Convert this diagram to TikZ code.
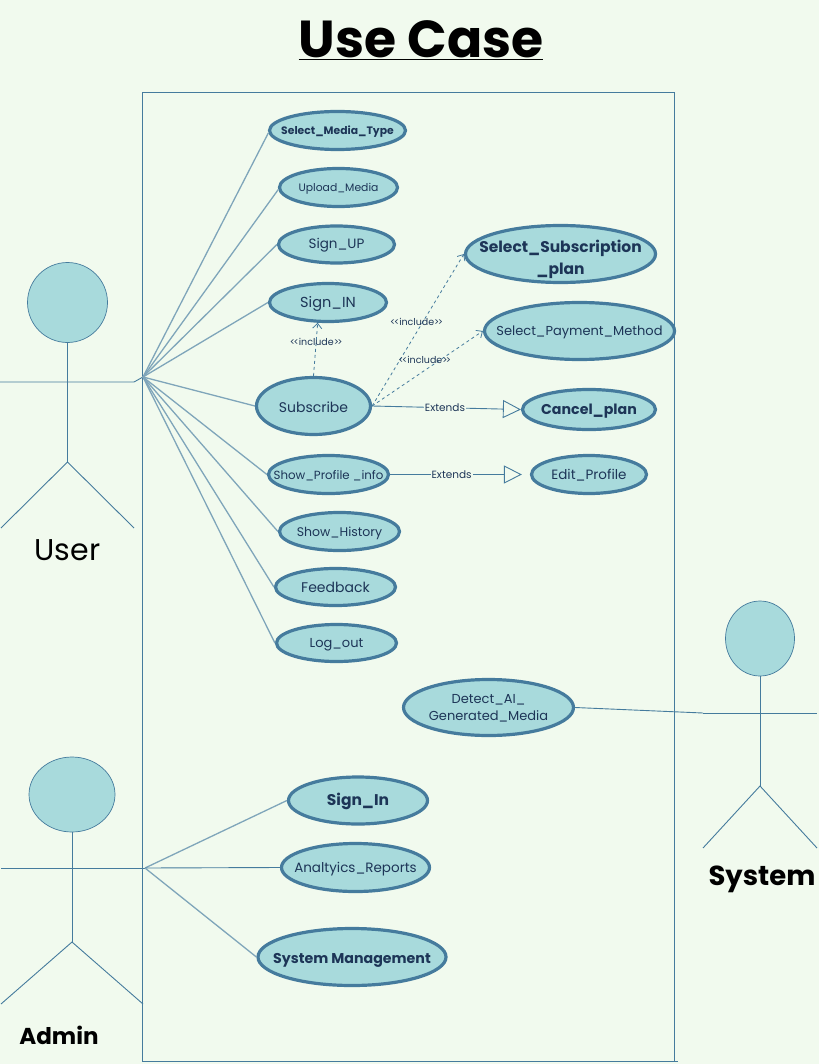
\documentclass[tikz,border=0pt]{standalone}
\usepackage{fontspec}
\setmainfont{Poppins}
\usetikzlibrary{arrows.meta,positioning,shapes.geometric}
\definecolor{pagebg}{HTML}{F1FAEE}
\definecolor{softteal}{HTML}{A8DADC}
\definecolor{steel}{HTML}{457B9D}
\definecolor{navy}{HTML}{1D3557}
\definecolor{assocline}{HTML}{7FA5BA}
\newcommand{\inclabel}{<\kern-1.5pt<include>\kern-1.5pt>}
\tikzset{
  usecase/.style={ellipse,draw=steel,line width=3.2pt,fill=softteal,text=navy,inner xsep=-40pt,inner ysep=-18pt,text height=12pt,text depth=3pt,align=center,on grid},
  actorhead/.style={ellipse,draw=steel,line width=.7pt,fill=softteal,inner sep=0pt},
  limb/.style={draw=steel,line width=.9pt},
  assoc/.style={draw=assocline,line width=1.3pt},
  inclusion/.style={draw=steel,line width=.8pt,dashed,-{Straight Barb[length=5pt,width=9pt]}},
  extension/.style={draw=steel,line width=.9pt,-{Triangle[open,length=18pt,width=18pt]}},
  linklabel/.style={text=navy,font=\fontsize{10.5}{12}\selectfont},
  inclabelstyle/.style={text=navy,font=\fontsize{9.5}{11}\selectfont},
  actorname/.style={text=black,font=\fontsize{30}{34}\selectfont}
}
\begin{document}
\begin{tikzpicture}[x=1pt,y=-1pt]
        \fill[pagebg] (0,0) rectangle (819,1064);
        \useasboundingbox (0,0) rectangle (819,1064);
        \node[font=\bfseries\fontsize{52}{58}\selectfont] (title) at (421,40) {\underline{Use Case}};
        \node[draw=steel,line width=.8pt,outer sep=0pt,anchor=north west,minimum width=532pt,minimum height=968.5pt,inner sep=0pt] (sysbox) at (142.3,92.5) {};
        \draw[limb] (sysbox.south east) -- ++(4pt,0pt);
        % use cases of the user
        \node[usecase,minimum width=136pt,minimum height=38pt,font=\bfseries\fontsize{10.8}{12}\selectfont] (selmedia) at (337.5,130.5) {Select\_Media\_Type};
        \node[usecase,minimum width=118pt,minimum height=38pt,font=\fontsize{10.8}{12}\selectfont] (upload) [below right = 57pt and 1pt of selmedia] {Upload\_Media};
        \node[usecase,minimum width=116pt,minimum height=37pt,font=\fontsize{13.5}{16}\selectfont] (signup) [below left = 57pt and 2pt of upload] {Sign\_UP};
        \node[usecase,minimum width=117pt,minimum height=38pt,font=\fontsize{14.5}{16}\selectfont] (signin) [below left = 58pt and 8.5pt of signup] {Sign\_IN};
        \node[usecase,text height=15pt,minimum width=114pt,minimum height=57pt,font=\fontsize{14}{16}\selectfont] (subscribe) [below left = 103.5pt and 14.5pt of signin] {Subscribe};
        \node[usecase,minimum width=120pt,minimum height=38pt,font=\fontsize{11.8}{14}\selectfont] (showprofile) [below right = 68.5pt and 15pt of subscribe] {Show\_Profile \_info};
        \node[usecase,minimum width=120pt,minimum height=38pt,font=\fontsize{12.5}{15}\selectfont] (showhistory) [below right = 57pt and 11pt of showprofile] {Show\_History};
        \node[usecase,text height=14pt,minimum width=120pt,minimum height=37pt,font=\fontsize{14}{16}\selectfont] (feedback) [below left = 55.5pt and 4pt of showhistory] {Feedback};
        \node[usecase,minimum width=120pt,minimum height=37pt,font=\fontsize{13}{15}\selectfont] (logout) [below right = 56pt and 1pt of feedback] {Log\_out};
        \node[usecase,text height=44pt,minimum width=190pt,minimum height=57pt,font=\bfseries\fontsize{15.5}{22}\selectfont] (selsub) at (560.5,254) {Select\_Subscription\\\_plan};
        \node[usecase,minimum width=190pt,minimum height=57pt,font=\fontsize{13}{16}\selectfont] (selpay) [below right = 77pt and 19pt of selsub] {Select\_Payment\_Method};
        \node[usecase,minimum width=133pt,minimum height=40pt,font=\bfseries\fontsize{14.2}{18}\selectfont] (cancel) [below right = 78.5pt and 9.5pt of selpay] {Cancel\_plan};
        \node[usecase,minimum width=115pt,minimum height=38pt,font=\fontsize{13.5}{16}\selectfont] (editprofile) [below = 65pt of cancel] {Edit\_Profile};
        \node[usecase,text height=28pt,minimum width=170pt,minimum height=56pt,font=\fontsize{13}{17}\selectfont] (detect) at (488.5,707.5) {Detect\_AI\_\\Generated\_Media};
        % use cases of the admin
        \node[usecase,minimum width=139pt,minimum height=47pt,font=\bfseries\fontsize{15.5}{18}\selectfont] (adminsign) at (358,800.5) {Sign\_In};
        \node[usecase,minimum width=148pt,minimum height=48pt,font=\fontsize{13.5}{15}\selectfont] (reports) [below left = 67pt and 2.5pt of adminsign] {Analtyics\_Reports};
        \node[usecase,text height=15pt,minimum width=188pt,minimum height=57pt,font=\bfseries\fontsize{14.2}{17}\selectfont] (sysmanage) [below left = 89.5pt and 3.5pt of reports] {System Management};
        % actors
        \node[actorhead,minimum width=80pt,minimum height=80pt] (userhead) at (67.5,302.5) {};
        \coordinate (userhip) at (67.5,462);
        \coordinate (userarml) at (0,382);
        \coordinate (userarmr) at (134,382);
        \coordinate (userhub) at (143,377);
        \coordinate (userfootl) at (1,528);
        \coordinate (userfootr) at (134,528);
        \draw[limb] (userhead.south) -- (userhip);
        \draw[limb] (userarml) -- (userarmr) -- (userhub);
        \draw[limb] (userfootl) -- (userhip) -- (userfootr);
        \node[actorname] (username) at (67.5,550) {User};
        \node[actorhead,minimum width=86pt,minimum height=75pt] (adminhead) at (72,794.5) {};
        \coordinate (adminhip) at (72,942);
        \coordinate (adminarml) at (1,868);
        \coordinate (adminhub) at (145,868);
        \coordinate (adminfootl) at (1,1004);
        \coordinate (adminfootr) at (143,1004);
        \draw[limb] (adminhead.south) -- (adminhip);
        \draw[limb] (adminarml) -- (adminhub);
        \draw[limb] (adminfootl) -- (adminhip) -- (adminfootr);
        \node[actorname,font=\bfseries\fontsize{23}{30}\selectfont] (adminname) at (59,1035) {Admin};
        \node[actorhead,minimum width=69pt,minimum height=75pt] (syshead) at (760,638.5) {};
        \coordinate (syship) at (760,786);
        \coordinate (sysarml) at (703,713);
        \coordinate (sysarmr) at (817,713);
        \coordinate (sysfootl) at (703,848);
        \coordinate (sysfootr) at (817,848);
        \draw[limb] (syshead.south) -- (syship);
        \draw[limb] (sysarml) -- (sysarmr);
        \draw[limb] (sysfootl) -- (syship) -- (sysfootr);
        \node[actorname,font=\bfseries\fontsize{27.5}{30}\selectfont] (sysname) at (762,879) {System};
        % associations
        \draw[assoc] (userhub) -- (selmedia.182.5);
        \draw[assoc] (userhub) -- (upload.182.5);
        \draw[assoc] (userhub) -- (signup.west);
        \draw[assoc] (userhub) -- (signin.west);
        \draw[assoc] (userhub) -- (subscribe.west);
        \draw[assoc] (userhub) -- (showprofile.west);
        \draw[assoc] (userhub) -- (showhistory.west);
        \draw[assoc] (userhub) -- (feedback.west);
        \draw[assoc] (userhub) -- (logout.west);
        \draw[assoc] (adminhub) -- (adminsign.west);
        \draw[limb] (adminhub) -- (reports.west);
        \draw[assoc] (adminhub) -- (sysmanage.west);
        \draw[limb] (detect.east) -- (sysarml);
        % include and extend links
        \draw[inclusion] (subscribe.north) -- node[inclabelstyle,pos=.64] (incsign) {\inclabel} (signin.243);
        \draw[inclusion] (subscribe.east) -- node[inclabelstyle,pos=.55,xshift=-6pt] (incsub) {\inclabel} (selsub.west);
        \draw[inclusion] (subscribe.east) -- node[inclabelstyle,pos=.61,xshift=-15pt] (incpay) {\inclabel} (selpay.west);
        \draw[extension] (subscribe.east) -- node[linklabel,fill=pagebg,inner sep=1pt,pos=.49] (extcancel) {Extends} (cancel.west);
        \draw[extension,shorten >=8pt] (showprofile.east) -- node[linklabel,fill=pagebg,inner sep=1pt,pos=.44] (extedit) {Extends} (editprofile.west);
    \end{tikzpicture}
\end{document}
